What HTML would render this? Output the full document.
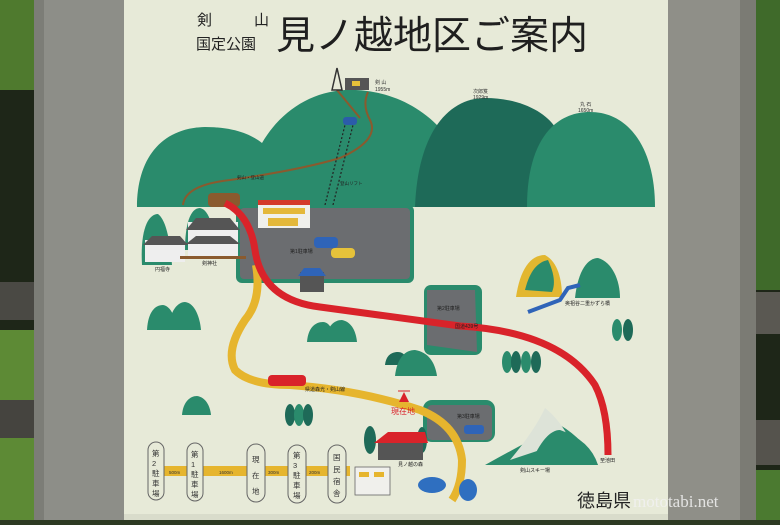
<!DOCTYPE html>
<html><head><meta charset="utf-8"><style>
body{margin:0;width:780px;height:520px;overflow:hidden;background:#2d3a22;font-family:"Liberation Sans","Noto Sans CJK JP",sans-serif}
</style></head><body>
<svg width="780" height="520" viewBox="0 0 780 520" xmlns="http://www.w3.org/2000/svg" font-family="Liberation Sans, Noto Sans CJK JP, sans-serif">
<rect x="0" y="0" width="780" height="520" fill="#1e2618"/>
<rect x="0" y="0" width="40" height="90" fill="#4f7a2e"/>
<rect x="0" y="330" width="40" height="190" fill="#5d8a35"/>
<rect x="0" y="282" width="45" height="38" fill="#4a4944"/>
<rect x="0" y="400" width="48" height="38" fill="#45443f"/>
<rect x="750" y="0" width="30" height="290" fill="#3f6a2a"/>
<rect x="745" y="292" width="35" height="42" fill="#5a5852"/>
<rect x="745" y="420" width="35" height="45" fill="#55534d"/>
<rect x="750" y="470" width="30" height="50" fill="#4b7a30"/>
<rect x="34" y="0" width="96" height="520" fill="#8d8e88"/>
<rect x="34" y="0" width="10" height="520" fill="#7c7d77"/>
<rect x="664" y="0" width="92" height="520" fill="#8f8f88"/>
<rect x="740" y="0" width="16" height="520" fill="#7b7b74"/>
<rect x="124" y="0" width="544" height="520" fill="#e7ead8"/>
<rect x="124" y="514" width="544" height="6" fill="#d9dccb"/>
<!-- title -->
<text x="197" y="25" font-size="15" fill="#222">剣</text>
<text x="254" y="25" font-size="15" fill="#222">山</text>
<text x="196" y="49" font-size="15" fill="#222">国定公園</text>
<text x="276" y="49" font-size="39" fill="#1f1f1f" textLength="312" lengthAdjust="spacingAndGlyphs">見ノ越地区ご案内</text>
<!-- mountains -->
<path d="M137 207 C137 160 160 128 205 127 C235 127 252 135 262 143 C280 112 310 92 345 90 C400 88 462 120 475 207 Z" fill="#2a8b6c"/>
<path d="M415 207 C418 130 450 98 485 98 C520 98 545 112 555 127 L555 207 Z" fill="#1e6a58"/>
<path d="M527 207 C527 140 555 112 590 112 C630 112 655 150 655 207 Z" fill="#2a8b6c"/>
<path d="M183 205 Q185 185 230 180 Q300 170 340 158 Q380 140 370 120 Q362 105 368 92" stroke="#8a5a2e" stroke-width="2" fill="none"/>
<path d="M337 90 L360 118" stroke="#8a5a2e" stroke-width="2" fill="none"/>
<path d="M325 205 L345 125 M333 205 L353 125" stroke="#222" stroke-width="1.2" stroke-dasharray="2,2"/>
<rect x="343" y="117" width="14" height="8" rx="3" fill="#2b5caa"/>
<path d="M332 90 L337 68 L342 90 Z" fill="none" stroke="#333" stroke-width="1.5"/>
<rect x="345" y="78" width="24" height="12" fill="#555"/><rect x="352" y="81" width="8" height="5" fill="#e6c23a"/>
<text x="375" y="84" font-size="5" fill="#333">剣 山</text><text x="375" y="91" font-size="5" fill="#333">1955m</text>
<text x="473" y="93" font-size="5" fill="#333">次郎笈</text><text x="473" y="99" font-size="5" fill="#333">1929m</text>
<text x="580" y="106" font-size="5" fill="#333">丸 石</text><text x="578" y="112" font-size="5" fill="#333">1650m</text>
<text x="237" y="179" font-size="4.5" fill="#222">剣山・登山道</text>
<text x="340" y="185" font-size="4.5" fill="#222">登山リフト</text>
<rect x="208" y="193" width="32" height="14" rx="4" fill="#8a5a2e"/>
<!-- parking 1 -->
<rect x="236" y="205" width="178" height="78" rx="6" fill="#2a8b6c"/>
<rect x="240" y="208" width="170" height="71" rx="4" fill="#6b6d70"/>
<rect x="258" y="202" width="52" height="26" fill="#f0f0ec"/><rect x="258" y="200" width="52" height="5" fill="#d43a2a"/>
<rect x="263" y="208" width="42" height="6" fill="#e4b83a"/><rect x="268" y="218" width="30" height="8" fill="#e4b83a"/>
<rect x="314" y="237" width="24" height="11" rx="4" fill="#2f64b8"/>
<rect x="331" y="248" width="24" height="10" rx="4" fill="#e6c23a"/>
<text x="290" y="253" font-size="5" fill="#222">第1駐車場</text>
<rect x="300" y="272" width="24" height="20" fill="#555"/><path d="M298 276 L304 268 L320 268 L326 276 Z" fill="#2f64b8"/>
<!-- temples -->
<path d="M142 265 C140 230 148 214 158 214 C166 220 170 240 172 265 Z" fill="#2a8b6c"/>
<path d="M185 250 C185 225 190 208 200 208 C210 210 214 230 215 250 Z" fill="#2a8b6c"/>
<rect x="145" y="240" width="40" height="22" fill="#eee"/><path d="M143 245 L152 236 L180 236 L188 245 Z" fill="#555"/>
<rect x="188" y="222" width="50" height="34" fill="#eee"/><path d="M186 230 L196 218 L230 218 L240 230 Z" fill="#555"/><path d="M186 244 L196 236 L230 236 L240 244 Z" fill="#555"/>
<rect x="180" y="256" width="66" height="3" fill="#8a5a2e"/>
<text x="155" y="271" font-size="5" fill="#222">円福寺</text><text x="202" y="265" font-size="5" fill="#222">剣神社</text>
<!-- parking 2 -->
<rect x="424" y="285" width="58" height="70" rx="7" fill="#2a8b6c"/>
<path d="M427 290 L475 290 L477 352 L427 345 Z" fill="#6b6d70"/>
<text x="437" y="310" font-size="5" fill="#222">第2駐車場</text>
<!-- parking 3 -->
<rect x="423" y="400" width="72" height="42" rx="9" fill="#2a8b6c"/>
<rect x="427" y="405" width="65" height="35" rx="5" fill="#6b6d70"/>
<rect x="464" y="425" width="20" height="9" rx="3" fill="#2f64b8"/>
<text x="457" y="418" font-size="5" fill="#222">第3駐車場</text>
<!-- roads -->
<path d="M256 265 Q262 300 245 320 Q225 350 235 370 Q250 385 290 385 Q360 390 420 410 Q458 425 462 460 Q462 485 452 500" stroke="#e6b52e" stroke-width="8" fill="none"/>
<path d="M225 203 Q250 215 255 250 Q262 300 320 307 Q400 318 460 326 Q560 332 595 385 Q608 410 608 455" stroke="#d9232a" stroke-width="7" fill="none"/>
<text x="455" y="328" font-size="5" fill="#222">国道439号</text>
<text x="305" y="391" font-size="5" fill="#222">県道森光・剣山線</text>
<rect x="268" y="375" width="38" height="11" rx="4" fill="#d9232a"/>
<path d="M399 402 L404 392 L409 402 Z" fill="#d9232a"/><line x1="398" y1="391" x2="410" y2="391" stroke="#d9232a"/>
<text x="391" y="414" font-size="8" fill="#d9232a">現在地</text>
<!-- hills -->
<g fill="#2a8b6c">
<path d="M147 330 C148 312 155 305 163 305 C170 306 175 315 177 330 Z"/><path d="M168 330 C170 310 178 302 185 302 C195 303 200 318 201 330 Z"/>
<path d="M307 342 C308 328 315 322 323 322 C330 322 334 332 335 342 Z"/><path d="M325 342 C327 326 334 320 342 320 C352 322 356 332 357 342 Z"/>
<path d="M385 365 C386 355 392 352 398 352 C404 352 408 358 408 365 Z" fill="#1e6a58"/><path d="M395 376 C397 358 405 350 415 350 C428 352 435 362 437 376 Z"/>
<path d="M182 415 C183 402 190 396 197 396 C205 397 210 405 211 415 Z"/>
<path d="M516 297 C520 270 530 255 545 255 C558 262 562 280 562 297 Z" fill="#e2b730"/><path d="M575 298 C578 270 588 258 598 258 C612 262 620 280 620 298 Z"/>
<path d="M525 290 C530 270 538 262 548 260 C555 275 555 285 552 292 Z"/>
<path d="M485 465 Q530 440 560 425 Q585 440 598 465 Z"/>
<path d="M510 460 Q535 430 545 408 Q560 420 570 440 Z" fill="#dde3d8"/>
<path d="M530 465 Q545 430 560 430 Q590 440 598 465 Z"/>
</g>
<g>
<ellipse cx="290" cy="415" rx="5" ry="11" fill="#1e6a58"/><ellipse cx="299" cy="415" rx="5" ry="11" fill="#2a8b6c"/><ellipse cx="308" cy="415" rx="5" ry="11" fill="#1e6a58"/>
<ellipse cx="507" cy="362" rx="5" ry="11" fill="#2a8b6c"/><ellipse cx="516" cy="362" rx="5" ry="11" fill="#1e6a58"/><ellipse cx="526" cy="362" rx="5" ry="11" fill="#2a8b6c"/><ellipse cx="536" cy="362" rx="5" ry="11" fill="#1e6a58"/>
<ellipse cx="617" cy="330" rx="5" ry="11" fill="#2a8b6c"/><ellipse cx="628" cy="330" rx="5" ry="11" fill="#1e6a58"/>
<ellipse cx="370" cy="440" rx="6" ry="14" fill="#1e6a58"/><ellipse cx="422" cy="440" rx="5" ry="13" fill="#1e6a58"/>
</g>
<path d="M528 312 L560 300 L568 288 L580 285" stroke="#2f64b8" stroke-width="4" fill="none"/>
<text x="565" y="305" font-size="5" fill="#222">奥祖谷二重かずら橋</text>
<rect x="378" y="440" width="45" height="20" fill="#555"/><path d="M374 443 L388 432 L425 432 L428 443 Z" fill="#d9232a"/>
<rect x="355" y="467" width="35" height="28" fill="#f0f0ec" stroke="#666" stroke-width="0.8"/>
<rect x="359" y="472" width="10" height="5" fill="#e6b52e"/><rect x="374" y="472" width="10" height="5" fill="#e6b52e"/>
<text x="398" y="466" font-size="5" fill="#222">見ノ越の森</text>
<ellipse cx="432" cy="485" rx="14" ry="8" fill="#2f6fc0"/><ellipse cx="468" cy="490" rx="9" ry="11" fill="#2f6fc0"/>
<text x="520" y="472" font-size="5" fill="#222">剣山スキー場</text><text x="600" y="462" font-size="5" fill="#222">至池田</text>
<!-- legend -->
<rect x="150" y="466" width="200" height="10" fill="#e6b52e"/>
<g fill="#e7ead8" stroke="#666" stroke-width="1">
<rect x="148" y="442" width="16" height="58" rx="8"/><rect x="187" y="443" width="16" height="58" rx="8"/>
<rect x="247" y="444" width="18" height="58" rx="9"/><rect x="288" y="445" width="18" height="58" rx="9"/><rect x="328" y="445" width="18" height="58" rx="9"/>
</g>
<g font-size="7.5" fill="#333">
<text x="152" y="456">第</text><text x="152" y="466">2</text><text x="152" y="476">駐</text><text x="152" y="486">車</text><text x="152" y="496">場</text>
<text x="191" y="457">第</text><text x="191" y="467">1</text><text x="191" y="477">駐</text><text x="191" y="487">車</text><text x="191" y="497">場</text>
<text x="252" y="462">現</text><text x="252" y="478">在</text><text x="252" y="494">地</text>
<text x="293" y="458">第</text><text x="293" y="468">3</text><text x="293" y="478">駐</text><text x="293" y="488">車</text><text x="293" y="498">場</text>
<text x="333" y="460">国</text><text x="333" y="472">民</text><text x="333" y="484">宿</text><text x="333" y="496">舎</text>
</g>
<g font-size="4.5" fill="#333"><text x="169" y="474">500m</text><text x="219" y="474">1600m</text><text x="268" y="474">300m</text><text x="309" y="474">200m</text></g>
<text x="577" y="507" font-size="18" fill="#222">徳島県</text>
<text x="633" y="507" font-size="17" font-family="Liberation Serif, serif" fill="#f2f2f2" opacity="0.85">mototabi.net</text>
</svg>
</body></html>
